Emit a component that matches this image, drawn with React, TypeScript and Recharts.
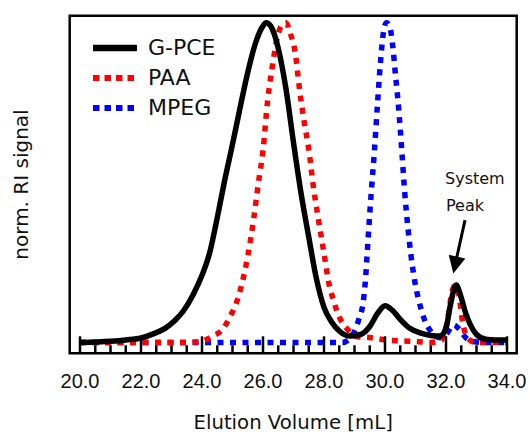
import { Label, Legend, Line, LineChart, ReferenceArea, ReferenceDot, XAxis, YAxis } from "recharts";

const X_DOMAIN: [number, number] = [19.662, 34.318];
const Y_DOMAIN: [number, number] = [-0.0338, 1.0219];

const LABELED_TICKS = [20, 22, 24, 26, 28, 30, 32, 34];
const ALL_TICKS = [
  20, 20.5, 21, 21.5, 22, 22.5, 23, 23.5, 24, 24.5, 25, 25.5, 26, 26.5, 27, 27.5, 28, 28.5, 29, 29.5, 30, 30.5, 31,
  31.5, 32, 32.5, 33, 33.5, 34,
];

// G-PCE (black, solid)
const gpceVolume = [
  20.0, 21.0, 21.5, 22.0, 22.4, 22.8, 23.1, 23.4, 23.7, 24.0, 24.25, 24.5, 24.75, 25.0, 25.25, 25.5, 25.75, 26.0, 26.1,
  26.25, 26.5, 26.75, 27.0, 27.25, 27.5, 27.75, 28.0, 28.25, 28.5, 28.85, 29.2, 29.5, 29.75, 30.0, 30.25, 30.5, 30.8,
  31.15, 31.5, 31.8, 32.0, 32.15, 32.33, 32.5, 32.65, 32.8, 33.0, 33.3, 33.6, 34.0,
];
const gpceSignal = [
  0.0, 0.004, 0.008, 0.014, 0.027, 0.045, 0.068, 0.1, 0.148, 0.21, 0.28, 0.39, 0.51, 0.62, 0.735, 0.845, 0.935, 0.99,
  1.0, 0.99, 0.92, 0.795, 0.625, 0.465, 0.33, 0.2, 0.11, 0.064, 0.036, 0.02, 0.025, 0.05, 0.09, 0.115, 0.1, 0.072,
  0.045, 0.03, 0.022, 0.02, 0.045, 0.12, 0.18, 0.14, 0.09, 0.055, 0.025, 0.01, 0.008, 0.008,
];

// PAA (red, dotted)
const paaVolume = [
  20.0, 23.5, 24.0, 24.35, 24.7, 24.92, 25.1, 25.3, 25.5, 25.7, 25.85, 26.0, 26.15, 26.3, 26.45, 26.6, 26.75, 26.9,
  27.05, 27.2, 27.35, 27.5, 27.65, 27.8, 28.0, 28.15, 28.3, 28.5, 28.75, 29.1, 29.55, 30.0, 30.5, 31.0, 31.5, 31.85,
  32.05, 32.2, 32.3, 32.42, 32.55, 32.75, 33.0, 34.0,
];
const paaSignal = [
  0.0, 0.0, 0.004, 0.02, 0.044, 0.081, 0.117, 0.18, 0.27, 0.39, 0.5, 0.6, 0.755, 0.86, 0.945, 0.99, 1.0, 0.965, 0.91,
  0.79, 0.69, 0.605, 0.488, 0.395, 0.279, 0.19, 0.135, 0.08, 0.044, 0.018, 0.015, 0.008, 0.005, 0.003, 0.0, 0.008,
  0.07, 0.16, 0.178, 0.15, 0.06, 0.01, 0.0, 0.0,
];

// MPEG (blue, dotted)
const mpegVolume = [
  20.0, 28.6, 28.8, 29.0, 29.15, 29.27, 29.35, 29.45, 29.55, 29.65, 29.75, 29.85, 29.95, 30.05, 30.15, 30.25, 30.35,
  30.45, 30.55, 30.65, 30.75, 30.85, 30.98, 31.1, 31.3, 31.5, 31.8, 32.0, 32.25, 32.45, 32.65, 32.9, 33.2, 34.0,
];
const mpegSignal = [
  0.0, 0.0, 0.008, 0.035, 0.075, 0.117, 0.185, 0.33, 0.47, 0.595, 0.74, 0.875, 0.97, 1.0, 0.99, 0.93, 0.83, 0.73, 0.6,
  0.465, 0.36, 0.274, 0.189, 0.135, 0.07, 0.035, 0.015, 0.025, 0.055, 0.04, 0.015, 0.003, 0.0, 0.0,
];

// where the "System Peak" arrow points
const SYSTEM_PEAK_VOLUME = 32.24;
const SYSTEM_PEAK_SIGNAL = 0.216;

const toPoints = (volume: number[], signal: number[]) => volume.map((v, i) => ({ volume: v, signal: signal[i] }));

const LEGEND_ROWS = [
  { name: "G-PCE", color: "#000000", dotted: false },
  { name: "PAA", color: "#ff0000", dotted: true },
  { name: "MPEG", color: "#0000ff", dotted: true },
];

const TICK_SIZE = 10;
const TICK_MARGIN = 10.5;

function VolumeTick({ x, y, payload }: { x?: number; y?: number; payload?: { value: number } }) {
  if (x == null || y == null || !payload) return null;
  const axisY = y - TICK_SIZE - TICK_MARGIN;
  const major = LABELED_TICKS.includes(payload.value);
  return (
    <g>
      <line x1={x} x2={x} y1={axisY} y2={axisY - (major ? 17 : 8)} stroke="#000" strokeWidth={2.5} />
      {major && (
        <text x={x} y={axisY + 34.7} textAnchor="middle" fontFamily="Liberation Sans" fontSize={20} fill="#111">
          {payload.value.toFixed(1)}
        </text>
      )}
    </g>
  );
}

function SeriesLegend() {
  return (
    <div style={{ fontFamily: "DejaVu Sans", fontSize: 22, color: "#111" }}>
      {LEGEND_ROWS.map((row) => (
        <div key={row.name} style={{ display: "flex", alignItems: "center", height: 30.3 }}>
          <svg width={44} height={10} style={{ display: "block" }}>
            <line
              x1={0}
              x2={44}
              y1={5}
              y2={5}
              stroke={row.color}
              strokeWidth={row.dotted ? 6 : 6.7}
              strokeDasharray={row.dotted ? "6.5 5" : undefined}
            />
          </svg>
          <span style={{ marginLeft: 11, lineHeight: 1 }}>{row.name}</span>
        </div>
      ))}
    </div>
  );
}

function SystemPeakNote({ cx, cy }: { cx?: number; cy?: number }) {
  if (cx == null || cy == null) return null;
  return (
    <g>
      <line x1={cx + 11.7} y1={cy - 53.3} x2={cx + 3} y2={cy - 14} stroke="#000" strokeWidth={3} />
      <polygon points={`${cx},${cy} ${cx + 12},${cy - 15} ${cx - 4.6},${cy - 18.6}`} fill="#000" />
      <text x={cx - 8.3} y={cy - 89} fontFamily="DejaVu Sans" fontSize={16} fill="#111">
        System
      </text>
      <text x={cx - 7.3} y={cy - 62.3} fontFamily="DejaVu Sans" fontSize={16} fill="#111">
        Peak
      </text>
    </g>
  );
}

export default function App() {
  return (
    <div style={{ width: 530, height: 435 }}>
      <style>{"body{margin:0}"}</style>
      <LineChart width={530} height={435} margin={{ top: 15.7, right: 13.3, bottom: 6.7, left: 0 }}>
        <XAxis
          dataKey="volume"
          type="number"
          domain={X_DOMAIN}
          allowDataOverflow
          ticks={ALL_TICKS}
          interval={0}
          height={75}
          tickSize={TICK_SIZE}
          tickMargin={TICK_MARGIN}
          tickLine={false}
          axisLine={false}
          tick={<VolumeTick />}
        >
          <Label
            value="Elution Volume [mL]"
            position="insideBottom"
            offset={-1}
            style={{ fontFamily: "DejaVu Sans", fontSize: 19.7, fill: "#111" }}
          />
        </XAxis>
        <YAxis
          type="number"
          domain={Y_DOMAIN}
          allowDataOverflow
          width={69.7}
          tick={false}
          tickLine={false}
          axisLine={false}
        >
          <Label
            value="norm. RI signal"
            angle={-90}
            position="insideLeft"
            offset={21}
            style={{ fontFamily: "DejaVu Sans", fontSize: 20, fill: "#111", textAnchor: "middle" }}
          />
        </YAxis>
        <ReferenceArea
          x1={X_DOMAIN[0]}
          x2={X_DOMAIN[1]}
          y1={Y_DOMAIN[0]}
          y2={Y_DOMAIN[1]}
          fill="none"
          stroke="#000"
          strokeWidth={2.5}
          fillOpacity={0}
        />
        <Line
          data={toPoints(mpegVolume, mpegSignal)}
          dataKey="signal"
          name="MPEG"
          type="monotone"
          stroke="#0000ff"
          strokeWidth={5.5}
          strokeDasharray="6 6.5"
          dot={false}
          activeDot={false}
          isAnimationActive={false}
        />
        <Line
          data={toPoints(paaVolume, paaSignal)}
          dataKey="signal"
          name="PAA"
          type="monotone"
          stroke="#ff0000"
          strokeWidth={5.5}
          strokeDasharray="6 6.5"
          dot={false}
          activeDot={false}
          isAnimationActive={false}
        />
        <Line
          data={toPoints(gpceVolume, gpceSignal)}
          dataKey="signal"
          name="G-PCE"
          type="monotone"
          stroke="#000000"
          strokeWidth={5.5}
          dot={false}
          activeDot={false}
          isAnimationActive={false}
        />
        <ReferenceDot x={SYSTEM_PEAK_VOLUME} y={SYSTEM_PEAK_SIGNAL} r={0} shape={<SystemPeakNote />} />
        <Legend
          content={<SeriesLegend />}
          layout="horizontal"
          verticalAlign="middle"
          align="center"
          wrapperStyle={{ top: 32.5, left: 93, width: "auto", height: "auto" }}
        />
      </LineChart>
    </div>
  );
}
